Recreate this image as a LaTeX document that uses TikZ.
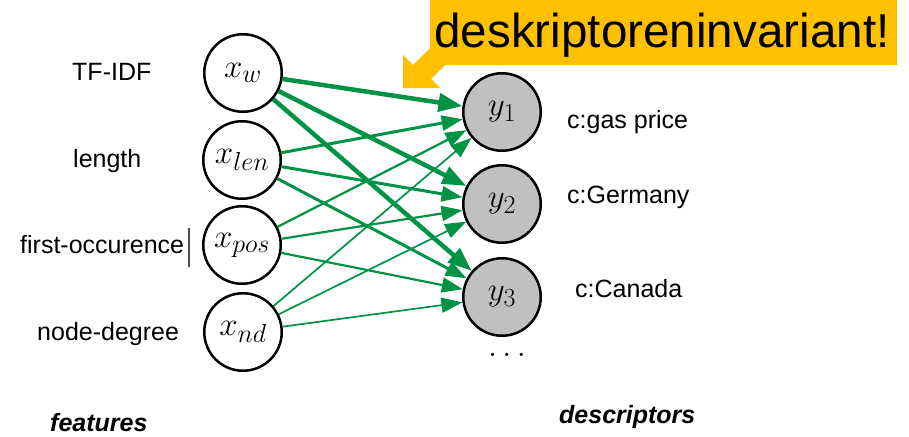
\RequirePackage{fix-cm}
\documentclass[tikz,border=0pt]{standalone}
\usepackage{fontspec}
\setmainfont{Liberation Sans}
\DeclareMathSizes{33}{33}{26}{20}
\usetikzlibrary{arrows.meta}
\definecolor{edgegreen}{RGB}{0,146,69}
\definecolor{callout}{RGB}{255,192,0}
\definecolor{nodegray}{RGB}{192,192,192}
\begin{document}
\begin{tikzpicture}[x=1pt,y=-1pt,
  feat/.style={circle,draw=black,line width=2.5pt,minimum size=77.5pt,inner sep=0pt,fill=white,
    font=\fontsize{33}{40}\selectfont},
  desc/.style={feat,fill=nodegray},
  lbl/.style={anchor=base west,inner sep=0pt,font=\fontsize{25}{30}\selectfont},
  captxt/.style={lbl,font=\fontsize{25}{30}\selectfont\bfseries\itshape},
  edge/.style={draw=edgegreen,line width=#1,-{Triangle[length=21pt,width=15pt]}},
  bigedge/.style={draw=edgegreen,line width=4.5pt,-{Triangle[length=24pt,width=18pt]}}
]
\useasboundingbox (0,0) rectangle (909,436);
% callout
\fill[callout] (403,88) -- (403,55) -- (413,65) -- (430,48) -- (430,0) -- (897,0) -- (897,65)
  -- (445,65) -- (431,79) -- (440,88) -- cycle;
\node[anchor=base,inner sep=0pt,font=\fontsize{47.6}{56}\selectfont] (note) at (662,48) {deskriptoreninvariant!};
% nodes
\node[feat] (xw) at (243,73) {$x_w$};
\node[feat] (xlen) at (242,160) {$x_{len}$};
\node[feat] (xpos) at (242,245) {$x_{pos}$};
\node[feat] (xnd) at (243,332) {$x_{nd}$};
\node[desc] (y1) at (502,112) {$y_1$};
\node[desc] (y2) at (502,204) {$y_2$};
\node[desc] (y3) at (502,297) {$y_3$};
\node[inner sep=0pt,font=\fontsize{33}{40}\selectfont] (dots) at (507,355) {$\ldots$};
% edges
\foreach \t in {y1,y2,y3}{
  \draw[bigedge] (xw) -- (\t);
  \draw[edge=3pt] (xlen) -- (\t);
  \draw[edge=2.2pt] (xpos) -- (\t);
  \draw[edge=1.7pt] (xnd) -- (\t);
}
% labels
\node[lbl] (l1) at (72,80) {TF-IDF};
\node[lbl] (l2) at (73,167) {length};
\node[lbl] (l3) at (20,253) {first-occurence};
\node[lbl] (l4) at (37,340) {node-degree};
\node[captxt] (lf) at (50,431) {features};
\node[lbl] (r1) at (567,128) {c:gas price};
\node[lbl] (r2) at (567,203) {c:Germany};
\node[lbl] (r3) at (575,297) {c:Canada};
\node[captxt] (ld) at (559,423) {descriptors};
% cursor bar
\coordinate (cA) at (189,228);
\coordinate (cB) at (189,267);
\draw[line width=1.5pt,black!70] (cA) -- (cB);
\end{tikzpicture}
\end{document}
